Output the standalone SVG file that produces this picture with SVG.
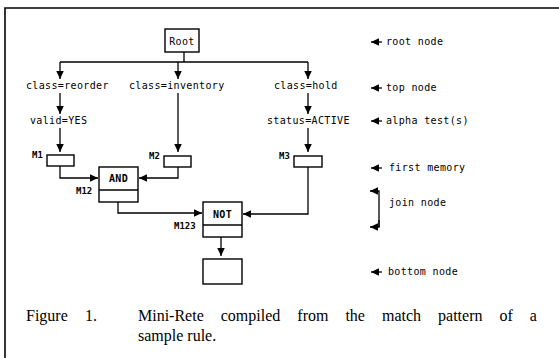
<svg xmlns="http://www.w3.org/2000/svg" width="559" height="358" viewBox="0 0 559 358">
  <style>
    .frame { stroke: #000; stroke-width: 1.6; fill: none; }
    .box { fill: #fff; stroke: #000; stroke-width: 1.4; }
    .wire { fill: none; stroke: #000; stroke-width: 1.3; }
    .t { font-family: "DejaVu Sans Mono", "Liberation Mono", monospace; font-size: 10px; letter-spacing: 0.35px; fill: #000; }
    .m { font-family: "DejaVu Sans Mono", "Liberation Mono", monospace; font-size: 9px; font-weight: bold; fill: #000; }
    .cap { font-family: "Liberation Serif", "Times New Roman", serif; font-size: 16px; fill: #000; }
  </style>
  <defs>
    <marker id="ah" markerUnits="userSpaceOnUse" markerWidth="10" markerHeight="8" refX="8" refY="3.75" orient="auto">
      <path d="M0,0 L8,3.75 L0,7.5 z" fill="#000"/>
    </marker>
  </defs>

  <rect width="559" height="358" fill="#fff"/>

  <!-- figure frame: top rule and left rule -->
  <path class="frame" d="M5,358 L5,8 L559,8"/>

  <!-- connectors -->
  <g id="connectors">
    <path class="wire" d="M184,52 L184,62"/>
    <path class="wire" d="M60,62 L308,62"/>
    <path class="wire" d="M60,62 L60,79" marker-end="url(#ah)"/>
    <path class="wire" d="M178,62 L178,79" marker-end="url(#ah)"/>
    <path class="wire" d="M308,62 L308,79" marker-end="url(#ah)"/>
    <path class="wire" d="M60,93 L60,114" marker-end="url(#ah)"/>
    <path class="wire" d="M308,93 L308,114" marker-end="url(#ah)"/>
    <path class="wire" d="M60,128 L60,152" marker-end="url(#ah)"/>
    <path class="wire" d="M178,93 L178,152" marker-end="url(#ah)"/>
    <path class="wire" d="M308,128 L308,152" marker-end="url(#ah)"/>
    <path class="wire" d="M60,166 L60,178 L98,178" marker-end="url(#ah)"/>
    <path class="wire" d="M178,167 L178,178 L139,178" marker-end="url(#ah)"/>
    <path class="wire" d="M118,202 L118,213 L202,213" marker-end="url(#ah)"/>
    <path class="wire" d="M308,167 L308,214 L243,214" marker-end="url(#ah)"/>
    <path class="wire" d="M221,237 L221,256" marker-end="url(#ah)"/>
  </g>

  <!-- nodes -->
  <g id="root">
    <rect class="box" x="165" y="29" width="34" height="23"/>
    <text class="t" x="182" y="45" text-anchor="middle">Root</text>
  </g>

  <g id="top-reorder">
    <text class="t" x="26" y="89">class=reorder</text>
  </g>
  <g id="top-inventory">
    <text class="t" x="129" y="89">class=inventory</text>
  </g>
  <g id="top-hold">
    <text class="t" x="274" y="89">class=hold</text>
  </g>

  <g id="alpha-valid">
    <text class="t" x="30" y="124">valid=YES</text>
  </g>
  <g id="alpha-status">
    <text class="t" x="267" y="124">status=ACTIVE</text>
  </g>

  <g id="mem-m1">
    <rect class="box" x="47" y="155" width="27" height="11"/>
    <text class="m" x="32" y="158">M1</text>
  </g>
  <g id="mem-m2">
    <rect class="box" x="164" y="156" width="27" height="11"/>
    <text class="m" x="149" y="159">M2</text>
  </g>
  <g id="mem-m3">
    <rect class="box" x="294" y="156" width="28" height="11"/>
    <text class="m" x="279" y="159">M3</text>
  </g>

  <g id="join-and">
    <rect class="box" x="99" y="167" width="39" height="35"/>
    <line class="wire" x1="99" y1="190" x2="138" y2="190"/>
    <text class="t" x="118.5" y="182" text-anchor="middle" font-weight="bold">AND</text>
    <text class="m" x="76" y="194">M12</text>
  </g>

  <g id="join-not">
    <rect class="box" x="203" y="202" width="39" height="35"/>
    <line class="wire" x1="203" y1="225" x2="242" y2="225"/>
    <text class="t" x="222.5" y="218" text-anchor="middle" font-weight="bold">NOT</text>
    <text class="m" x="174" y="229">M123</text>
  </g>

  <g id="bottom">
    <rect class="box" x="203" y="259" width="39" height="25"/>
  </g>

  <!-- legend on the right -->
  <g id="legend">
    <path class="wire" d="M382,42 L371,42" marker-end="url(#ah)"/>
    <text class="t" x="386" y="45">root node</text>
    <path class="wire" d="M382,88 L371,88" marker-end="url(#ah)"/>
    <text class="t" x="386" y="91">top node</text>
    <path class="wire" d="M382,121 L371,121" marker-end="url(#ah)"/>
    <text class="t" x="386" y="124">alpha test(s)</text>
    <path class="wire" d="M382,168 L371,168" marker-end="url(#ah)"/>
    <text class="t" x="389" y="171">first memory</text>
    <path class="wire" d="M379,227 L379,191 L370,191" marker-end="url(#ah)"/>
    <path class="wire" d="M379,220 L379,227 L370,227" marker-end="url(#ah)"/>
    <text class="t" x="389" y="206">join node</text>
    <path class="wire" d="M382,272 L371,272" marker-end="url(#ah)"/>
    <text class="t" x="388" y="275">bottom node</text>
  </g>

  <!-- caption -->
  <g id="caption">
    <text class="cap" x="26" y="321">Figure</text>
    <text class="cap" x="85" y="321">1.</text>
    <text class="cap" x="138" y="321" word-spacing="13">Mini-Rete compiled from the match pattern of a</text>
    <text class="cap" x="138" y="341">sample rule.</text>
  </g>
</svg>
